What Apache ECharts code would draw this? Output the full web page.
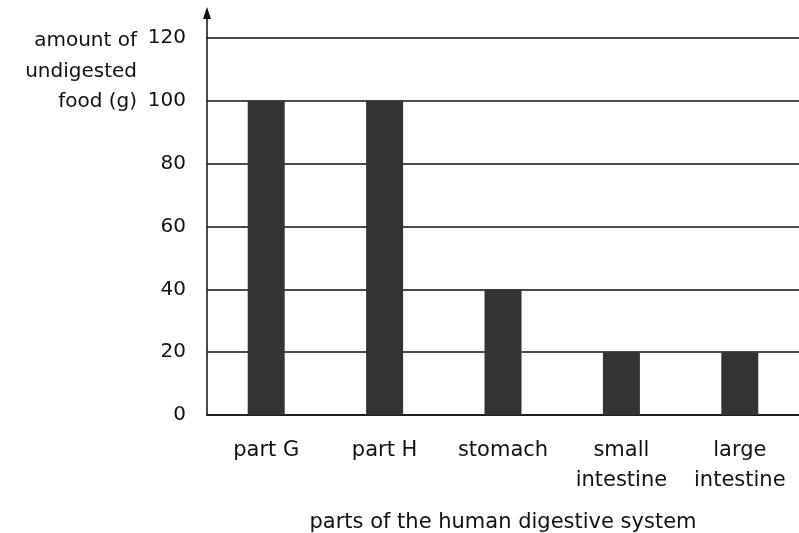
<!DOCTYPE html>
<html><head><meta charset="utf-8">
<script src="https://cdn.jsdelivr.net/npm/echarts@6/dist/echarts.min.js"></script>
<style>html,body{margin:0;padding:0;background:#fff}#c{width:799px;height:533px}</style>
</head><body><div id="c"></div>
<script>
const categories = ['part G', 'part H', 'stomach', 'small\nintestine', 'large\nintestine'];
const values = [100, 100, 40, 20, 20];
const yTicks = [0, 20, 40, 60, 80, 100, 120];
const yTitle = 'amount of\nundigested\nfood (g)';
const xTitle = 'parts of the human digestive system';

const chart = echarts.init(document.getElementById('c'));
const font = 'DejaVu Sans, sans-serif';
const fs = 20;
chart.setOption({
  animation: false,
  backgroundColor: '#fff',
  grid: { left: 207, right: 0, top: 38, bottom: 118, containLabel: false, outerBoundsMode: 'none' },
  xAxis: {
    type: 'category', data: categories,
    axisLine: { show: true, lineStyle: { color: '#111', width: 1.5 } },
    axisTick: { show: false },
    axisLabel: { color: '#111', fontSize: 21, fontFamily: font, margin: 21, lineHeight: 30, verticalAlign: 'top', interval: 0, hideOverlap: false },
    name: xTitle, nameLocation: 'middle', nameGap: 97,
    nameTextStyle: { color: '#111', fontSize: 21, fontFamily: font }
  },
  yAxis: {
    type: 'value', min: yTicks[0], max: yTicks[yTicks.length - 1], interval: 20,
    axisLine: { show: true, lineStyle: { color: '#111', width: 1.5 } },
    axisTick: { show: false },
    axisLabel: { color: '#111', fontSize: fs, fontFamily: font, margin: 21 },
    splitLine: { show: true, lineStyle: { color: '#111', width: 1.5 } }
  },
  series: [{
    type: 'bar', data: values, barWidth: 37,
    itemStyle: { color: '#333333' }
  }],
  graphic: [
    { type: 'line', shape: { x1: 207, y1: 38, x2: 207, y2: 14 }, style: { stroke: '#111', lineWidth: 1.5 } },
    { type: 'polygon', shape: { points: [[207, 7], [203, 19], [211, 19]] }, style: { fill: '#111' } },
    { type: 'text', x: 137, y: 26, style: { text: yTitle, fill: '#111', fontSize: fs, fontFamily: font, lineHeight: 30.5, align: 'right', verticalAlign: 'top' } }
  ]
});
</script></body></html>
